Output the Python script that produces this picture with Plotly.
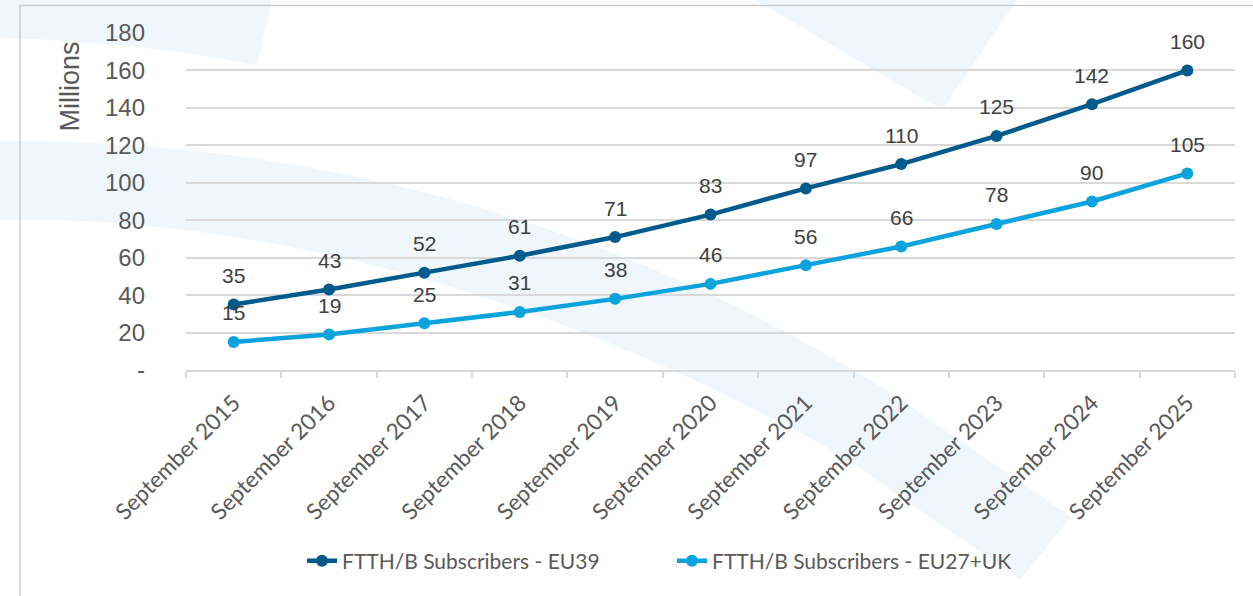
import plotly.graph_objects as go

# ---- data ----
categories = ["September 2015", "September 2016", "September 2017", "September 2018",
              "September 2019", "September 2020", "September 2021", "September 2022",
              "September 2023", "September 2024", "September 2025"]
eu39 = [35, 43, 52, 61, 71, 83, 97, 110, 125, 142, 160]
eu27_uk = [15, 19, 25, 31, 38, 46, 56, 66, 78, 90, 105]
series_names = ["FTTH/B Subscribers - EU39", "FTTH/B Subscribers - EU27+UK"]
y_tickvals = [0, 20, 40, 60, 80, 100, 120, 140, 160, 180]
y_ticktext = ["-", "20", "40", "60", "80", "100", "120", "140", "160", "180"]

# ---- styling ----
DARK = "#005a8c"
LIGHT = "#0aa3de"
GRID = "#d9d9d9"
SWOOSH = "#eff7fd"

W, H = 1253, 596
L, R, T, B = 186, 1235, 33, 370  # plot area in page pixels


def px(x):
    return (x - L) / (R - L)


def py(y):
    return (B - y) / (B - T)


def path(cmds):
    out = []
    for c in cmds:
        if isinstance(c, str):
            out.append(c)
        else:
            out.append(f"{px(c[0]):.5f},{py(c[1]):.5f}")
    return " ".join(out)


fig = go.Figure()

fig.add_trace(go.Scatter(x=categories, y=eu39, name=series_names[0], mode="lines+markers",
                         line=dict(color=DARK, width=4.5), marker=dict(size=12, color=DARK)))
fig.add_trace(go.Scatter(x=categories, y=eu27_uk, name=series_names[1], mode="lines+markers",
                         line=dict(color=LIGHT, width=4.5), marker=dict(size=12, color=LIGHT)))

annotations = []
for series in (eu39, eu27_uk):
    for c, v in zip(categories, series):
        annotations.append(dict(x=c, y=v, text=str(v), showarrow=False, yshift=29,
                                font=dict(family="Liberation Sans, Arial", size=21, color="#404040")))

annotations.append(dict(xref="paper", yref="paper", x=px(69), y=py(86.5), text="Millions",
                        textangle=-90, showarrow=False, xanchor="center", yanchor="middle",
                        font=dict(family="Liberation Sans, Arial", size=27, color="#595959")))

shapes = [
    # top-left swoosh
    dict(type="path", xref="paper", yref="paper", layer="below", line=dict(width=0), fillcolor=SWOOSH,
         path=path(["M", (0, 0), "L", (272, 0), "L", (257, 65), "C", (170, 48), (80, 40), (0, 38), "Z"])),
    # big band
    dict(type="path", xref="paper", yref="paper", layer="below", line=dict(width=0), fillcolor=SWOOSH,
         path=path(["M", (0, 141), "C", (300, 140), (600, 212), (890, 392), "L", (1071, 517),
                    "L", (1020, 580), "L", (845, 458), "C", (600, 318), (300, 215), (0, 220), "Z"])),
    # top wedge
    dict(type="path", xref="paper", yref="paper", layer="below", line=dict(width=0), fillcolor=SWOOSH,
         path=path(["M", (755, 0), "L", (1017, 0), "L", (945, 106), "L", (935, 106), "Z"])),
    # outer frame
    dict(type="rect", xref="paper", yref="paper", layer="below",
         x0=px(20), y0=py(620), x1=px(1280), y1=py(5.5),
         line=dict(color="#cccccc", width=1.5), fillcolor="rgba(0,0,0,0)"),
]

fig.update_layout(
    width=W, height=H,
    margin=dict(l=L, r=W - R, t=T, b=H - B),
    paper_bgcolor="white",
    plot_bgcolor="rgba(0,0,0,0)",
    showlegend=True,
    legend=dict(orientation="h", x=px(672), y=py(561), xanchor="center", yanchor="middle",
                font=dict(family="Lato, Carlito, sans-serif", size=21, color="#595959"),
                bgcolor="rgba(0,0,0,0)", entrywidth=325, entrywidthmode="pixels"),
    annotations=annotations,
    shapes=shapes,
)

fig.update_xaxes(
    type="category", range=[-0.5, len(categories) - 0.5],
    showgrid=False, showline=True, linecolor=GRID, linewidth=1.5,
    ticks="outside", tickson="boundaries", ticklen=6, tickcolor=GRID, tickwidth=1.5,
    tickangle=-45, ticklabelstandoff=9,
    tickfont=dict(family="Lato, Carlito, sans-serif", size=22.5, color="#595959"),
)

fig.update_yaxes(
    range=[0, 180], tickvals=y_tickvals, ticktext=y_ticktext,
    showgrid=True, gridcolor=GRID, gridwidth=1.5, zeroline=False, showline=False,
    ticks="", ticklabelstandoff=40,
    tickfont=dict(family="Liberation Sans, Arial", size=24, color="#595959"),
)

fig.write_html("out.html", config={"displayModeBar": False},
               post_script="document.body.style.margin='0';document.body.style.overflow='hidden';")
